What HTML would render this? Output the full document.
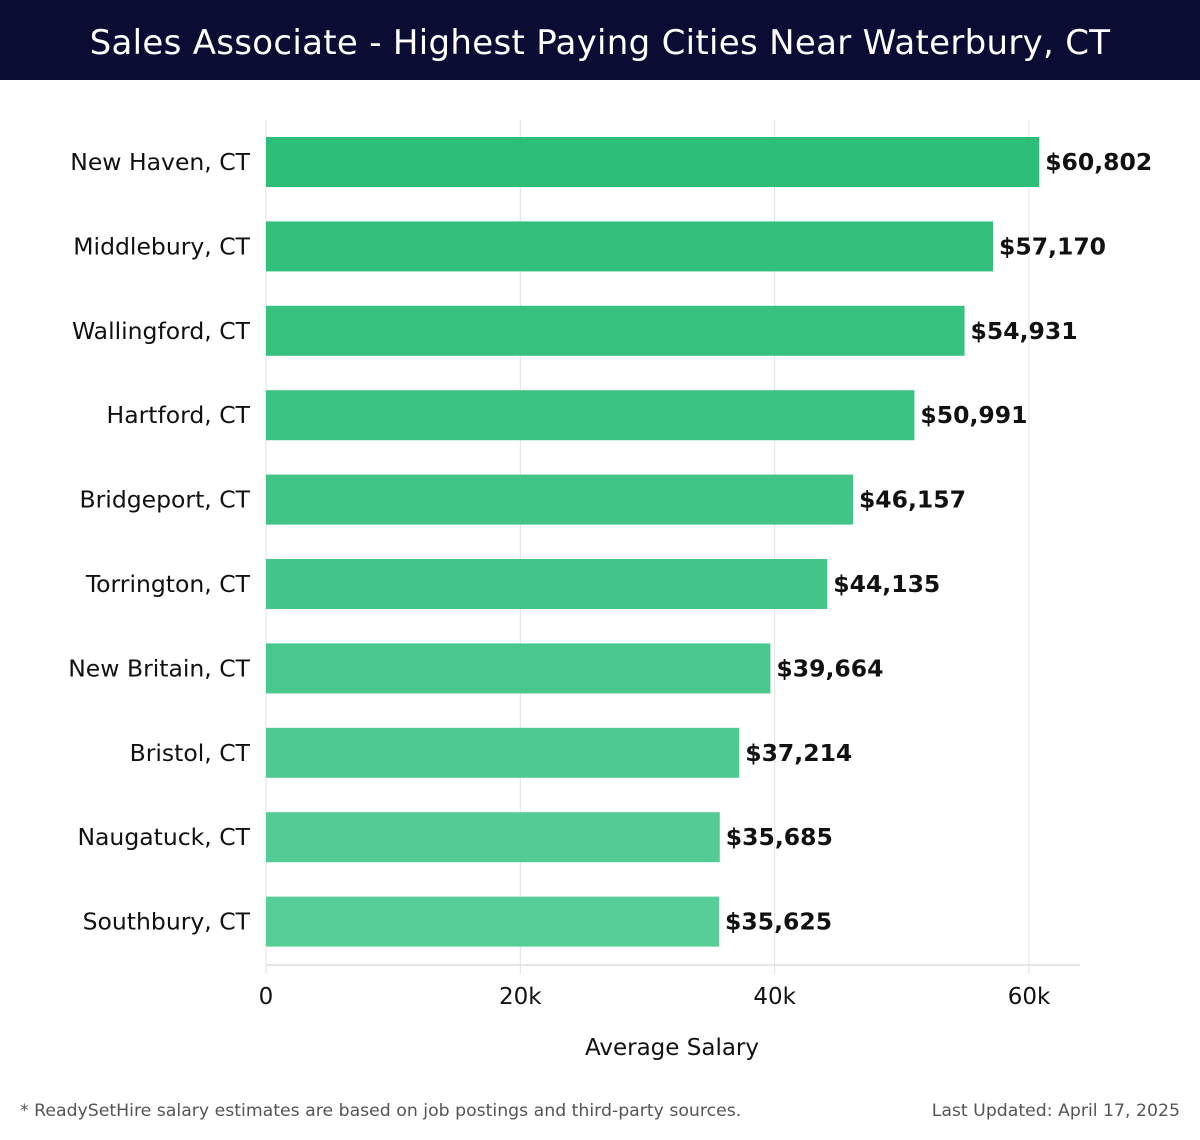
<!DOCTYPE html>
<html><head><meta charset="utf-8"><style>
body{margin:0;width:1200px;height:1140px;background:#fff;font-family:"DejaVu Sans","Liberation Sans",sans-serif;overflow:hidden}
#title{position:absolute;left:0;top:0;width:1200px;height:80px;background:#0b0c33;color:#fff;font-size:34px;text-align:center;line-height:86px;letter-spacing:0.3px}
svg{position:absolute;left:0;top:0}
.foot{position:absolute;top:1101px;font-size:17.3px;color:#555;letter-spacing:0px}
</style></head><body>
<div id="title">Sales Associate - Highest Paying Cities Near Waterbury, CT</div>
<svg id="chart" width="1200" height="1140"></svg>
<div class="foot" style="left:20px">* ReadySetHire salary estimates are based on job postings and third-party sources.</div>
<div class="foot" style="right:20px">Last Updated: April 17, 2025</div>
<script>
const cities=["New Haven, CT","Middlebury, CT","Wallingford, CT","Hartford, CT","Bridgeport, CT","Torrington, CT","New Britain, CT","Bristol, CT","Naugatuck, CT","Southbury, CT"];
const salaries=[60802,57170,54931,50991,46157,44135,39664,37214,35685,35625];
const ticks=[0,20000,40000,60000];
const tickLabels=["0","20k","40k","60k"];
const svg=document.getElementById('chart');
const NS='http://www.w3.org/2000/svg';
const x0=266,pxPer=763/60000,yTop=137,step=84.4,bh=50,axisY=965;
const xs=v=>x0+v*pxPer;
function mk(t,a){const e=document.createElementNS(NS,t);for(const k in a)e.setAttribute(k,a[k]);svg.appendChild(e);return e;}
ticks.forEach((t,i)=>{
  const g=mk('line',{x1:xs(t),x2:xs(t),y1:120,y2:974,stroke:'#e2e2e2','stroke-width':1});
  
  
  const l=mk('text',{x:xs(t),y:1004,'text-anchor':'middle','font-size':23,fill:'#111'});
  l.textContent=tickLabels[i];
  
  
});
const ax=mk('line',{x1:x0,x2:1080,y1:axisY,y2:axisY,stroke:'#ddd','stroke-width':1.5});


function col(i){const a=[45,190,120],b=[87,205,152],f=i/9;return 'rgb('+a.map((c,k)=>Math.round(c+(b[k]-c)*f)).join(',')+')';}
cities.forEach((c,i)=>{
  const y=yTop+i*step;
  const r=mk('rect',{x:x0,y:y,width:xs(salaries[i])-x0,height:bh,fill:col(i)});
  
  
  const lab=mk('text',{x:250,y:y+bh/2+8,'text-anchor':'end','font-size':23.5,fill:'#111'});
  lab.textContent=c;
  
  
  const v=mk('text',{x:xs(salaries[i])+6,y:y+bh/2+8,'font-size':23.5,'font-weight':'bold',fill:'#111'});
  v.textContent='$'+salaries[i].toLocaleString('en-US');
  
  
});
const at=mk('text',{x:672,y:1055,'text-anchor':'middle','font-size':23,fill:'#111'});
at.textContent='Average Salary';


</script>
</body></html>
